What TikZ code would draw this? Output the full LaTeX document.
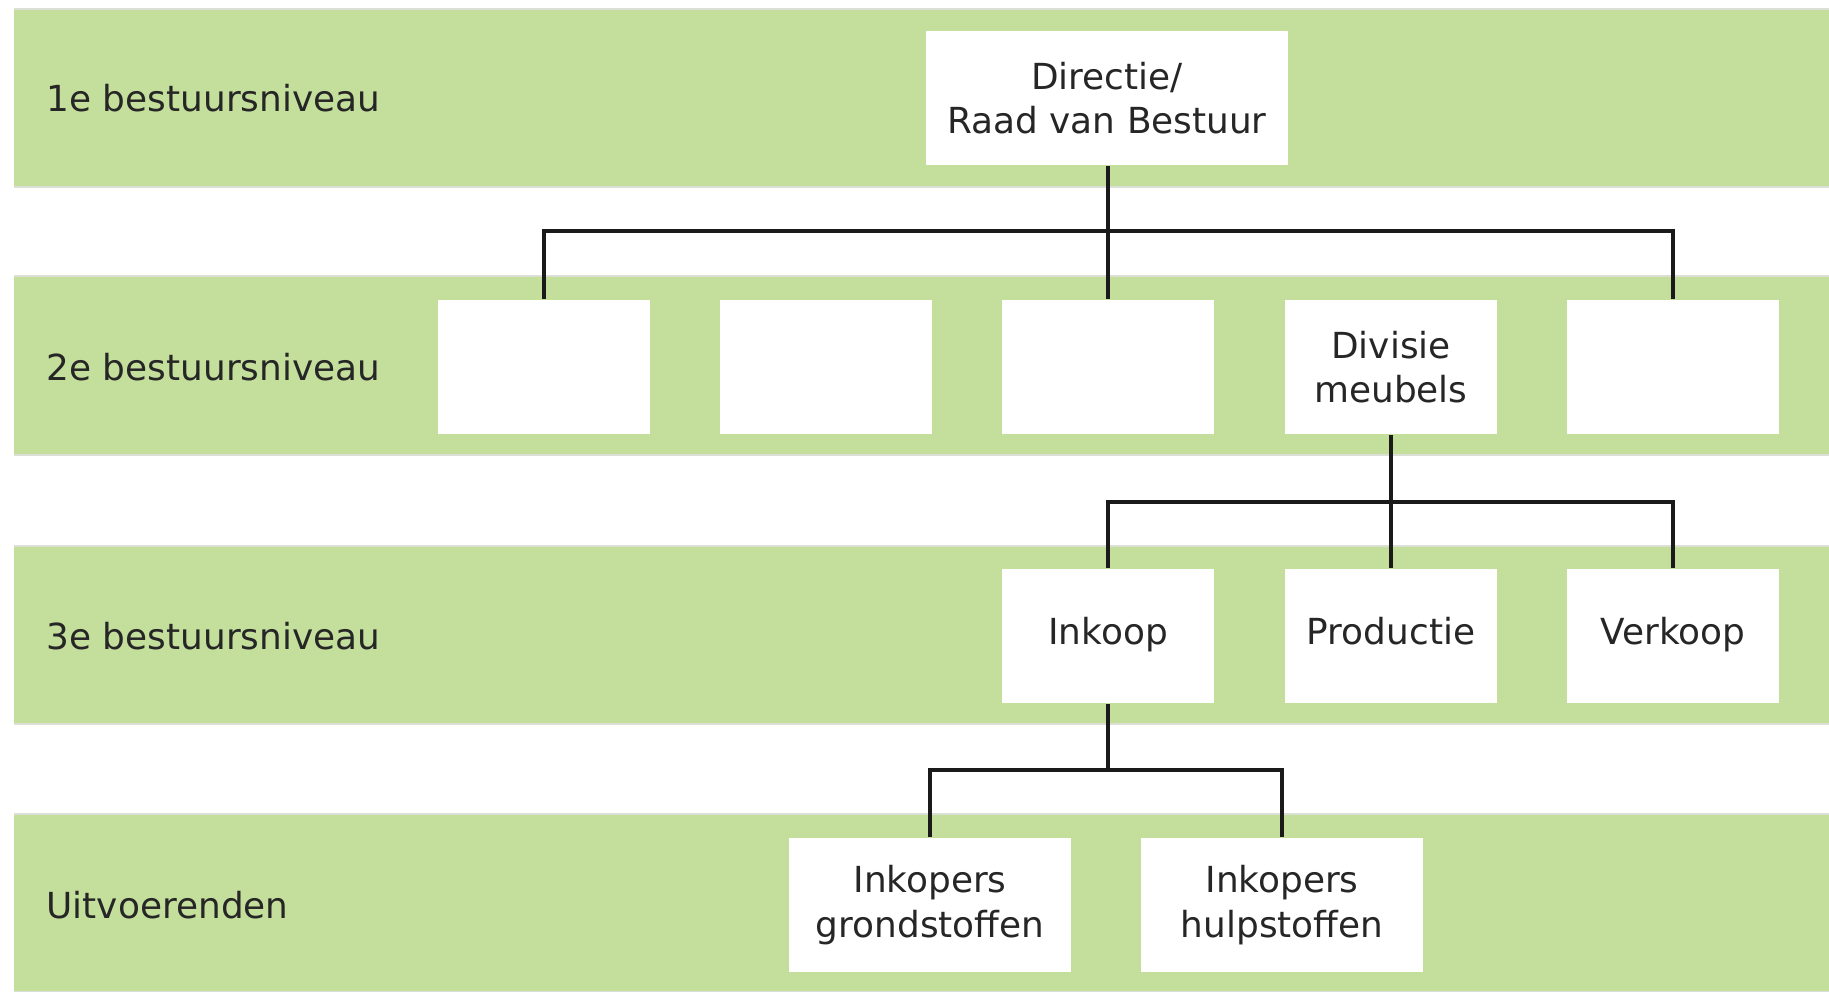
\documentclass[tikz,border=0pt]{standalone}
\usepackage{fontspec}
\setmainfont{DejaVu Sans}
\definecolor{bandgreen}{HTML}{C4DF9C}
\definecolor{bandedge}{HTML}{DCDFD6}
\definecolor{txt}{HTML}{262626}
\definecolor{linecol}{HTML}{1A1A1A}
\begin{document}
\begin{tikzpicture}[x=0.01cm,y=-0.01cm,
  band/.style={fill=bandgreen},
  edge/.style={draw=bandedge,line width=0.5pt},
  box/.style={fill=white,inner sep=0pt,minimum width=2.11cm,minimum height=1.34cm,
    align=center,text=txt,font=\fontsize{10.2}{12.6}\selectfont},
  oneline/.style={box,text height=0.75em,text depth=0.25em},
  wide/.style={box,minimum width=3.62cm},
  mid/.style={box,minimum width=2.81cm},
  lvl/.style={anchor=west,inner sep=0pt,text=txt,font=\fontsize{10.2}{12.6}\selectfont},
  conn/.style={draw=linecol,line width=0.9pt}]
\useasboundingbox (0,0) rectangle (1829,992);

% horizontal bands, one per management level
\foreach \t/\b in {9/187,276/455,546/724,814/992}{
  \fill[band] (14,\t) rectangle (1829,\b);
  \draw[edge] (14,\t) -- (1829,\t);
  \draw[edge] (14,\b) -- (1829,\b);
}

% level captions
\node[lvl] (l1) at (46,98) {1e bestuursniveau};
\node[lvl] (l2) at (46,367) {2e bestuursniveau};
\node[lvl] (l3) at (46,636) {3e bestuursniveau};
\node[lvl] (l4) at (46,905) {Uitvoerenden};

% level 1
\node[wide] (dir) at (1107,98) {Directie/\\Raad van Bestuur};

% level 2
\node[box] (b1) at (544,367) {};
\node[box] (b2) at (826,367) {};
\node[box] (b3) at (1108,367) {};
\node[box] (b4) at (1391,367) {Divisie\\meubels};
\node[box] (b5) at (1673,367) {};

% level 3
\node[oneline] (c1) at (1108,636) {Inkoop};
\node[oneline] (c2) at (1391,636) {Productie};
\node[oneline] (c3) at (1673,636) {Verkoop};

% executing staff
\node[mid] (d1) at (930,905) {Inkopers\\grondstoffen};
\node[mid] (d2) at (1282,905) {Inkopers\\hulpstoffen};

% connectors
\coordinate (j1) at (1108,231);
\coordinate (j2) at (1391,502);
\coordinate (j3) at (1108,770);

\draw[conn] (dir.south -| j1) -- (j1);
\draw[conn] (b1.north) |- (j1) -| (b5.north);
\draw[conn] (j1) -- (b3.north);

\draw[conn] (b4.south) -- (j2);
\draw[conn] (c1.north) |- (j2) -| (c3.north);
\draw[conn] (j2) -- (c2.north);

\draw[conn] (c1.south) -- (j3);
\draw[conn] (d1.north) |- (j3) -| (d2.north);
\end{tikzpicture}
\end{document}
